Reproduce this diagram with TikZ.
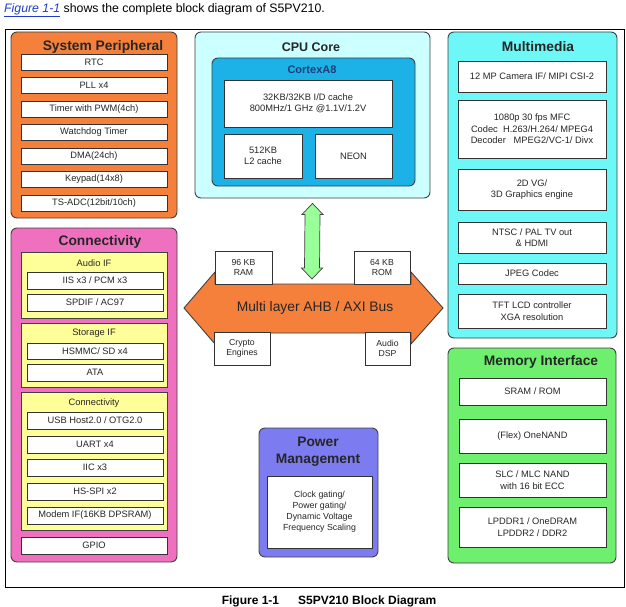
\documentclass[tikz,border=0pt]{standalone}
\usepackage{fontspec}
\setmainfont{Liberation Sans}
\usetikzlibrary{calc,positioning}

\definecolor{sysorange}{RGB}{244,128,60}
\definecolor{cpupale}{RGB}{204,255,255}
\definecolor{cortexblue}{RGB}{28,178,232}
\definecolor{cortextext}{RGB}{30,60,120}
\definecolor{mmcyan}{RGB}{110,247,247}
\definecolor{memgreen}{RGB}{110,240,110}
\definecolor{conpink}{RGB}{240,112,192}
\definecolor{grpyellow}{RGB}{255,255,153}
\definecolor{pwrblue}{RGB}{124,124,240}
\definecolor{arrowgreen}{RGB}{153,255,153}
\definecolor{linkblue}{RGB}{30,60,200}

\begin{document}
\begin{tikzpicture}[x=1pt, y=-1pt,
    group/.style={draw=black!75, line width=0.9pt, rounded corners=6pt, inner sep=0pt},
    subgroup/.style={draw=black!75, line width=0.7pt, fill=grpyellow, inner sep=0pt},
    item/.style={draw=black!80, fill=white, line width=0.7pt, inner sep=0pt, align=center,
                 text=black!85, font=\fontsize{9.3}{11.5}\selectfont},
    small/.style={item, font=\fontsize{8.7}{10.7}\selectfont},
    title/.style={font=\fontsize{13.8}{17}\selectfont\bfseries, text=black!85, align=center},
    lab/.style={font=\fontsize{9.3}{11}\selectfont, text=black!85},
    sysitem/.style={item, minimum width=146pt, minimum height=16pt},
    mmitem/.style={item, minimum width=148pt},
    memitem/.style={item, minimum width=147pt},
    conitem/.style={item, minimum width=136pt, minimum height=17pt},
    bus/.style={draw=black!75, line width=0.9pt, fill=sysorange},
    link/.style={draw=black!75, line width=0.7pt, fill=arrowgreen}
]
\useasboundingbox (0,0) rectangle (626,607);

% header and frame
\node[anchor=west, inner sep=0pt, font=\fontsize{12.3}{14}\selectfont] (intro) at (4,10)
    {\textcolor{linkblue}{\underline{\textit{Figure 1-1}}} shows the complete block diagram of S5PV210.};
\draw[line width=0.8pt] (5,29) rectangle (624,587);
\node[font=\fontsize{12}{14}\selectfont\bfseries] (caption) at (329,601)
    {Figure 1-1\hspace{19pt}S5PV210 Block Diagram};

% system peripheral
\node[group, fill=sysorange, minimum width=166pt, minimum height=186pt] (sysper) at (94,125) {};
\node[title] (sysname) at (103,47) {System Peripheral};
\node[sysitem] (rtc) at (94,62) {RTC};
\node[sysitem] (pll) at (94,85.5) {PLL x4};
\node[sysitem] (timer) at (94,109) {Timer with PWM(4ch)};
\node[sysitem] (wdt) at (94,132) {Watchdog Timer};
\node[sysitem] (dma) at (94,156) {DMA(24ch)};
\node[sysitem] (keypad) at (94,179) {Keypad(14x8)};
\node[sysitem] (adc) at (94,203) {TS-ADC(12bit/10ch)};

% cpu core
\node[group, fill=cpupale, minimum width=235pt, minimum height=166pt] (cpu) at (312.5,115) {};
\node[title, font=\fontsize{12.5}{15}\selectfont\bfseries] (cpuname) at (311,47) {CPU Core};
\node[group, fill=cortexblue, minimum width=203pt, minimum height=128pt] (cortex) at (313.5,122) {};
\node[font=\fontsize{11}{13}\selectfont\bfseries, text=cortextext] (cortexname) at (312,70) {CortexA8};
\node[item, minimum width=168pt, minimum height=47pt] (cache) at (308,103.5)
    {32KB/32KB I/D cache\\800MHz/1 GHz @1.1V/1.2V};
\node[item, minimum width=78pt, minimum height=44pt] (ltwo) at (263,156) {512KB\\L2 cache};
\node[item, minimum width=77pt, minimum height=44pt] (neon) at (353.5,156) {NEON};

% multimedia
\node[group, fill=mmcyan, minimum width=169pt, minimum height=306pt] (mm) at (532.5,185) {};
\node[title] (mmname) at (538,47) {Multimedia};
\node[mmitem, minimum height=31pt] (camera) at (532,76.5) {12 MP Camera IF/ MIPI CSI-2};
\node[mmitem, minimum height=58pt] (mfc) at (532,129)
    {1080p 30 fps MFC\\Codec~~H.263/H.264/ MPEG4\\Decoder~~~MPEG2/VC-1/ Divx};
\node[mmitem, minimum height=41pt] (gfx) at (532,189.5) {2D VG/\\3D Graphics engine};
\node[mmitem, minimum height=31pt] (tvout) at (532,237.5) {NTSC / PAL TV out\\\& HDMI};
\node[mmitem, minimum height=21pt] (jpeg) at (532,273.5) {JPEG Codec};
\node[mmitem, minimum height=34pt] (lcd) at (532,311) {TFT LCD controller\\XGA resolution};

% memory interface
\node[group, fill=memgreen, minimum width=168pt, minimum height=215pt] (mem) at (532,455.5) {};
\node[title] (memname) at (541,362) {Memory Interface};
\node[memitem, minimum height=27pt] (sram) at (532.5,391.5) {SRAM / ROM};
\node[memitem, minimum height=34pt] (onenand) at (532.5,436) {(Flex) OneNAND};
\node[memitem, minimum height=34pt] (nand) at (532.5,480) {SLC / MLC NAND\\with 16 bit ECC};
\node[memitem, minimum height=40pt] (dram) at (532.5,527) {LPDDR1 / OneDRAM\\LPDDR2 / DDR2};

% connectivity
\node[group, fill=conpink, minimum width=166pt, minimum height=334pt] (con) at (94,395) {};
\node[title] (conname) at (100,242) {Connectivity};
\node[subgroup, minimum width=146pt, minimum height=66pt] (audioif) at (94,285) {};
\node[lab] (audioname) at (94,263) {Audio IF};
\node[conitem] (iis) at (95,280.5) {IIS x3 / PCM x3};
\node[conitem] (spdif) at (95,302.5) {SPDIF / AC97};
\node[subgroup, minimum width=146pt, minimum height=64pt] (storif) at (94,355) {};
\node[lab] (storname) at (94,333) {Storage IF};
\node[conitem, minimum height=16pt] (hsmmc) at (95,351) {HSMMC/ SD x4};
\node[conitem] (ata) at (95,372.5) {ATA};
\node[subgroup, minimum width=146pt, minimum height=138pt] (connif) at (94,461) {};
\node[lab] (connname) at (94,403) {Connectivity};
\node[conitem] (usb) at (95,420.5) {USB Host2.0 / OTG2.0};
\node[conitem] (uart) at (95,444.5) {UART x4};
\node[conitem] (iic) at (95,467.5) {IIC x3};
\node[conitem] (spi) at (95,491.5) {HS-SPI x2};
\node[conitem] (modem) at (95,515.5) {Modem IF(16KB DPSRAM)};
\node[sysitem, minimum height=17pt] (gpio) at (94,545.5) {GPIO};

% power management
\node[group, fill=pwrblue, minimum width=119pt, minimum height=129pt] (pwr) at (318.5,492.5) {};
\node[title] (pwrname) at (318,451.5) {Power\\Management};
\node[item, minimum width=105pt, minimum height=72pt, font=\fontsize{8.8}{11}\selectfont] (gating) at (319.5,512)
    {Clock gating/\\Power gating/\\Dynamic Voltage\\Frequency Scaling};

% bus and its blocks
\draw[bus] (184,308) -- (215,272) -- (215,284) -- (411,284) -- (411,272) -- (443,308)
    -- (411,344) -- (411,333) -- (215,333) -- (215,344) -- cycle;
\node[font=\fontsize{13.8}{16}\selectfont, text=black!85] (busname) at (315,308) {Multi layer AHB / AXI Bus};
\node[small, minimum width=57pt, minimum height=33pt] (ram) at (243.5,267.5) {96 KB\\RAM};
\node[small, minimum width=56pt, minimum height=33pt] (rom) at (382,267.5) {64 KB\\ROM};
\node[small, minimum width=56pt, minimum height=33pt] (crypto) at (242,348.5) {Crypto\\Engines};
\node[small, minimum width=45pt, minimum height=33pt] (dsp) at (387.5,348.5) {Audio\\DSP};

% cpu <-> bus
\coordinate (cpuport) at ($(cpu.south)+(0,5)$);
\coordinate (busport) at (312,279);
\draw[link] (cpuport) -- ($(cpuport)+(10.5,11)$) -- ($(cpuport)+(7.5,11)$)
    -- ($(busport)+(7.5,-11)$) -- ($(busport)+(10.5,-11)$) -- (busport)
    -- ($(busport)+(-10.5,-11)$) -- ($(busport)+(-7.5,-11)$)
    -- ($(cpuport)+(-7.5,11)$) -- ($(cpuport)+(-10.5,11)$) -- cycle;
\end{tikzpicture}
\end{document}
